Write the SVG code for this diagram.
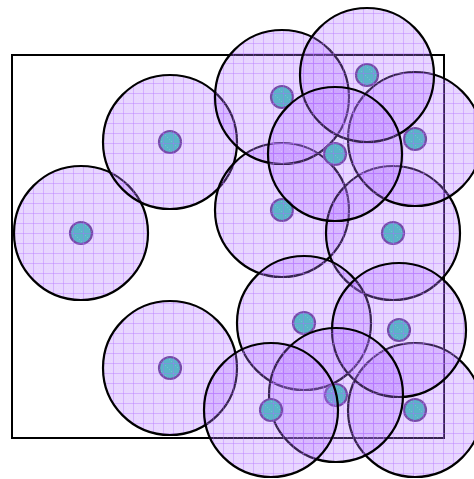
<svg xmlns="http://www.w3.org/2000/svg" width="474" height="479" viewBox="0 0 474 479">
<defs>
<pattern id="grid" patternUnits="userSpaceOnUse" x="3" y="3" width="10" height="10">
<rect width="10" height="10" fill="rgb(180,120,255)" fill-opacity="0.3"/>
<rect x="0" y="0" width="1" height="1" fill="rgb(255,255,255)" fill-opacity="0.15"/>
<rect x="2" y="2" width="1" height="1" fill="rgb(255,255,255)" fill-opacity="0.15"/>
<rect x="4" y="4" width="1" height="1" fill="rgb(255,255,255)" fill-opacity="0.15"/>
<rect x="6" y="6" width="1" height="1" fill="rgb(255,255,255)" fill-opacity="0.15"/>
<rect x="8" y="8" width="1" height="1" fill="rgb(255,255,255)" fill-opacity="0.15"/>
<path d="M0.5 0V10M0 0.5H10" stroke="rgb(170,100,255)" stroke-opacity="0.35" stroke-width="1" fill="none"/>
</pattern>
</defs>
<style>
.area{fill:url(#grid);stroke:#000;stroke-width:2.2}
.dot{fill:#35cdb0;stroke:#5a3a80;stroke-width:2.2}
.frame{fill:none;stroke:#000;stroke-width:2}
</style>
<rect class="frame" x="12" y="55" width="432" height="383"/>
<g id="connectors"/>
<g id="n1"><circle class="dot" cx="81" cy="233" r="11"/><circle class="area" cx="81" cy="233" r="67"/></g>
<g id="n2"><circle class="dot" cx="170" cy="142" r="11"/><circle class="area" cx="170" cy="142" r="67"/></g>
<g id="n3"><circle class="dot" cx="170" cy="368" r="11"/><circle class="area" cx="170" cy="368" r="67"/></g>
<g id="n8"><circle class="dot" cx="282" cy="210" r="11"/><circle class="area" cx="282" cy="210" r="67"/></g>
<g id="n4"><circle class="dot" cx="282" cy="97" r="11"/><circle class="area" cx="282" cy="97" r="67"/></g>
<g id="n9"><circle class="dot" cx="393" cy="233" r="11"/><circle class="area" cx="393" cy="233" r="67"/></g>
<g id="n6"><circle class="dot" cx="415" cy="139" r="11"/><circle class="area" cx="415" cy="139" r="67"/></g>
<g id="n5"><circle class="dot" cx="367" cy="75" r="11"/><circle class="area" cx="367" cy="75" r="67"/></g>
<g id="n7"><circle class="dot" cx="335" cy="154" r="11"/><circle class="area" cx="335" cy="154" r="67"/></g>
<g id="n10"><circle class="dot" cx="304" cy="323" r="11"/><circle class="area" cx="304" cy="323" r="67"/></g>
<g id="n14"><circle class="dot" cx="415" cy="410" r="11"/><circle class="area" cx="415" cy="410" r="67"/></g>
<g id="n11"><circle class="dot" cx="399" cy="330" r="11"/><circle class="area" cx="399" cy="330" r="67"/></g>
<g id="n12"><circle class="dot" cx="336" cy="395" r="11"/><circle class="area" cx="336" cy="395" r="67"/></g>
<g id="n13"><circle class="dot" cx="271" cy="410" r="11"/><circle class="area" cx="271" cy="410" r="67"/></g>
</svg>
